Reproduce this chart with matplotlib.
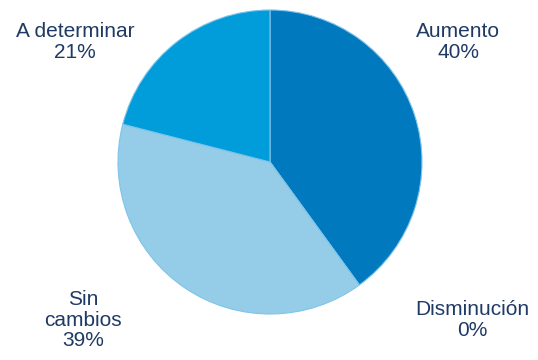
import matplotlib
matplotlib.use('Agg')
from matplotlib import pyplot as plt

categories = ['Aumento', 'Disminución', 'Sin\ncambios', 'A determinar']
values = [40, 0, 39, 21]
colors = ['#0079BF', '#005A96', '#95CDE8', '#009DDA']
# label anchor points in pixels (x from left, y from top)
label_pos = [(458, 42), (472, 320), (83, 320), (75, 42)]

W, H = 538, 360
fig = plt.figure(figsize=(W / 100, H / 100), dpi=100)

cx, cy, r = 270, 162, 152
ax = fig.add_axes([(cx - r) / W, (H - cy - r) / H, 2 * r / W, 2 * r / H])
ax.pie(values, colors=colors, startangle=90, counterclock=False, radius=1,
       wedgeprops=dict(edgecolor='#7EC4EA', linewidth=0.8))
ax.set_xlim(-1, 1)
ax.set_ylim(-1, 1)
ax.set_aspect('equal')
ax.axis('off')

for name, v, (px, py) in zip(categories, values, label_pos):
    fig.text(px / W, 1 - py / H, f'{name}\n{v}%', ha='center', va='center',
             fontsize=15, color='#1F3A64', family='Liberation Sans',
             linespacing=1.12, multialignment='center')

fig.savefig('out.png', dpi=100)
